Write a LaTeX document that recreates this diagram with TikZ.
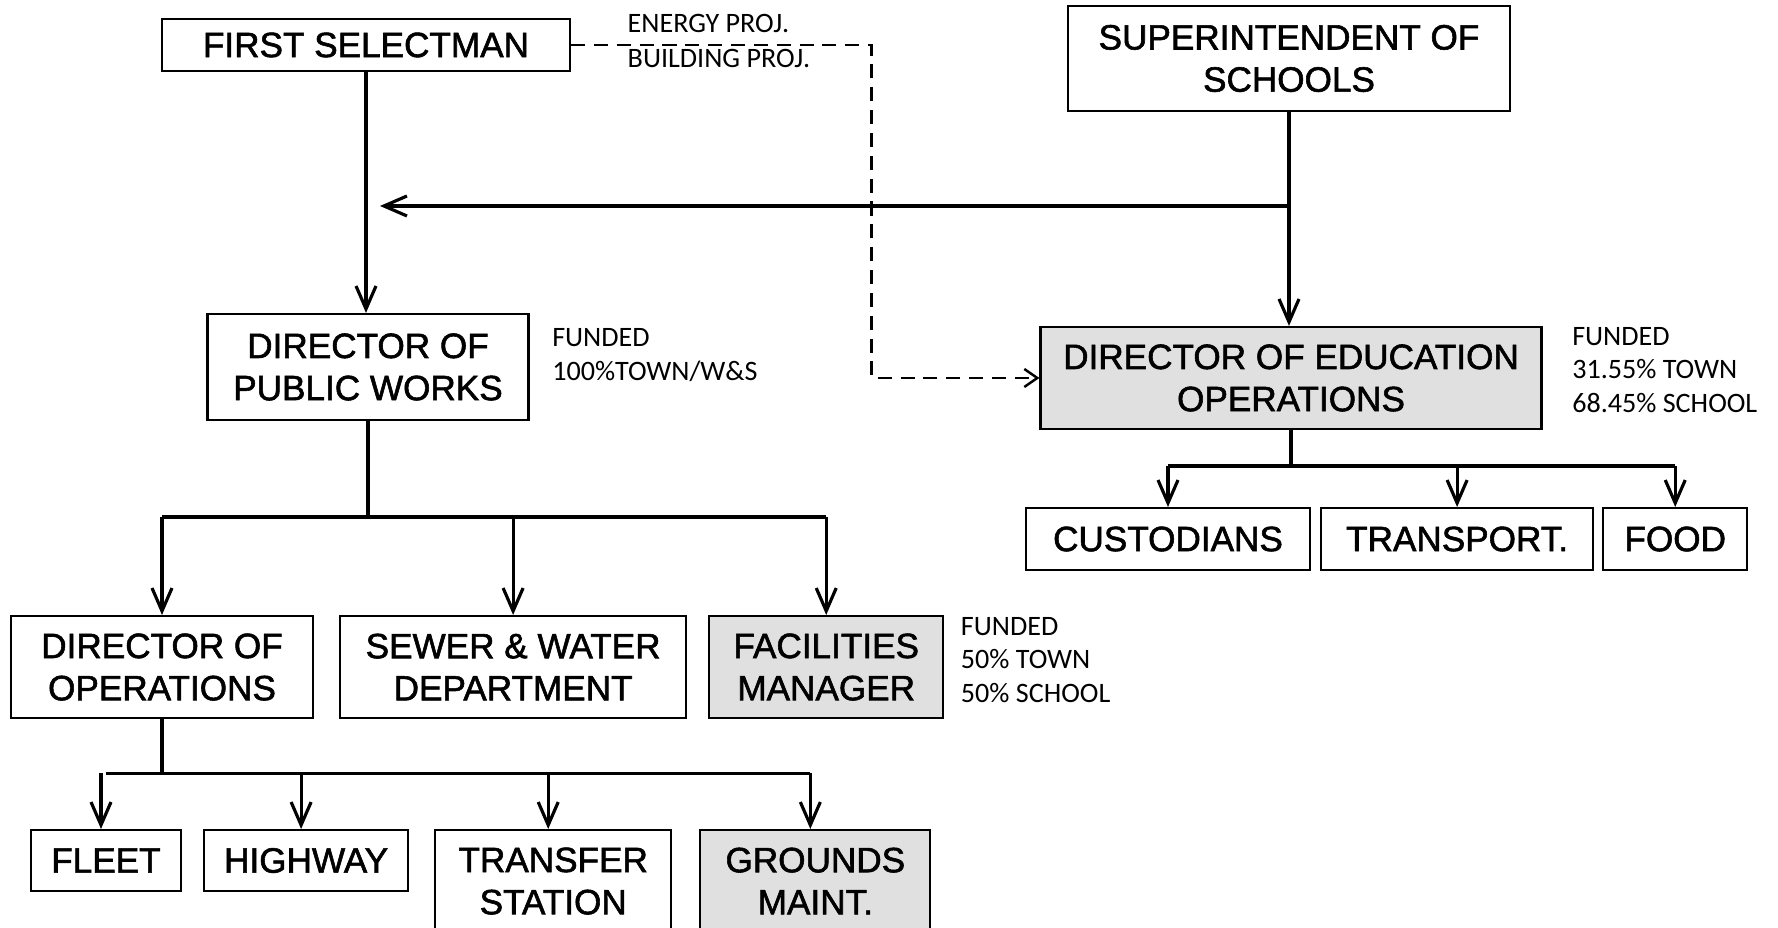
\documentclass[tikz,border=0pt]{standalone}
\usepackage{fontspec}
\setmainfont{Liberation Sans}
\newfontfamily\unitfont{Liberation Sans}[FakeBold=1.6]
\newfontfamily\notefont{Carlito}
\usetikzlibrary{arrows.meta,positioning,calc}

\begin{document}
\begin{tikzpicture}[
  unit/.style={rectangle, draw=black, line width=0.6pt, fill=white, align=center,
               inner sep=0pt, font=\unitfont\fontsize{10}{12}\selectfont},
  shared/.style={unit, fill=black!12},
  note/.style={align=left, inner sep=0pt, font=\notefont\fontsize{8}{9.5}\selectfont},
  link/.style={line width=0.9pt},
  arr/.style={link, -{Straight Barb[length=2.3mm,width=2mm]}},
  dasharr/.style={line width=0.7pt, dash pattern=on 4pt off 2.5pt,
                  -{Straight Barb[length=1.3mm,width=1.8mm]}}
]
  \useasboundingbox (0,0) rectangle (17.78,-9.28);

  % top
  \node[unit, minimum width=4.08cm, minimum height=0.52cm] (fs) at (3.66,-0.45) {FIRST SELECTMAN};
  \node[unit, minimum width=4.42cm, minimum height=1.05cm] (supt) at (12.89,-0.585) {SUPERINTENDENT OF\\SCHOOLS};
  \node[note, anchor=west] (energy) at (6.27,-0.24) {ENERGY PROJ.};
  \node[note, anchor=west] (bldg) at (6.27,-0.59) {BUILDING PROJ.};

  % directors
  \node[unit, minimum width=3.21cm, minimum height=1.06cm] (dpw) at (3.68,-3.67) {DIRECTOR OF\\PUBLIC WORKS};
  \node[shared, minimum width=5.01cm, minimum height=1.02cm] (deo) at (12.91,-3.78) {DIRECTOR OF EDUCATION\\OPERATIONS};
  \node[note, right=0.22cm of dpw, yshift=0.12cm] (dpwfund) {FUNDED\\100\%TOWN/W\&S};
  \node[note, right=0.29cm of deo, yshift=0.08cm] (deofund) {FUNDED\\31.55\% TOWN\\68.45\% SCHOOL};

  % school side
  \node[unit, anchor=north, minimum width=2.84cm, minimum height=0.62cm] (cust) at (11.68,-5.07) {CUSTODIANS};
  \node[unit, right=0.09cm of cust, minimum width=2.72cm, minimum height=0.62cm] (trans) {TRANSPORT.};
  \node[unit, right=0.08cm of trans, minimum width=1.44cm, minimum height=0.62cm] (food) {FOOD};

  % town side
  \node[unit, anchor=north, minimum width=3.02cm, minimum height=1.02cm] (dops) at (1.62,-6.15) {DIRECTOR OF\\OPERATIONS};
  \node[unit, right=0.25cm of dops, minimum width=3.46cm, minimum height=1.02cm] (sw) {SEWER \& WATER\\DEPARTMENT};
  \node[shared, right=0.21cm of sw, minimum width=2.34cm, minimum height=1.02cm] (fm) {FACILITIES\\MANAGER};
  \node[note, right=0.16cm of fm, yshift=0.07cm] (fmfund) {FUNDED\\50\% TOWN\\50\% SCHOOL};

  % operations crews
  \node[unit, anchor=north, minimum width=1.50cm, minimum height=0.61cm] (fleet) at (1.06,-8.29) {FLEET};
  \node[unit, right=0.21cm of fleet, minimum width=2.04cm, minimum height=0.61cm] (hwy) {HIGHWAY};
  \node[unit, anchor=north west, minimum width=2.36cm, minimum height=1.02cm] (ts) at ([xshift=0.25cm]hwy.north east) {TRANSFER\\STATION};
  \node[shared, anchor=north west, minimum width=2.30cm, minimum height=1.02cm] (gm) at ([xshift=0.27cm]ts.north east) {GROUNDS\\MAINT.};

  % reporting lines
  \draw[arr] (fs.south) -- (fs.south |- dpw.north);
  \draw[arr] (supt.south) -- (supt.south |- deo.north);
  \coordinate (hit) at (3.80,-2.06);
  \coordinate (split) at (supt.south |- hit);
  \draw[arr] (split) -- (hit);
  \draw[dasharr] (fs.east) -| ([xshift=-1.68cm]deo.west) -- (deo.west);

  % buses
  \draw[link] (deo.south) -- ++(0,-0.36) coordinate (edbus);
  \draw[link] (cust.north |- edbus) -- (food.north |- edbus);
  \foreach \n in {cust,trans,food}
    \draw[arr] (\n.north |- edbus) -- (\n.north);

  \draw[link] (dpw.south) -- ++(0,-0.96) coordinate (pwbus);
  \draw[link] (dops.north |- pwbus) -- (fm.north |- pwbus);
  \foreach \n in {dops,sw,fm}
    \draw[arr] (\n.north |- pwbus) -- (\n.north);

  \draw[link] (dops.south) -- ++(0,-0.54) coordinate (opbus);
  \draw[link] (fleet.north |- opbus) -- ([xshift=-0.05cm]gm.north |- opbus);
  \foreach \n in {fleet,hwy,ts,gm}
    \draw[arr] ([xshift=-0.05cm]\n.north |- opbus) -- ([xshift=-0.05cm]\n.north);
\end{tikzpicture}
\end{document}
